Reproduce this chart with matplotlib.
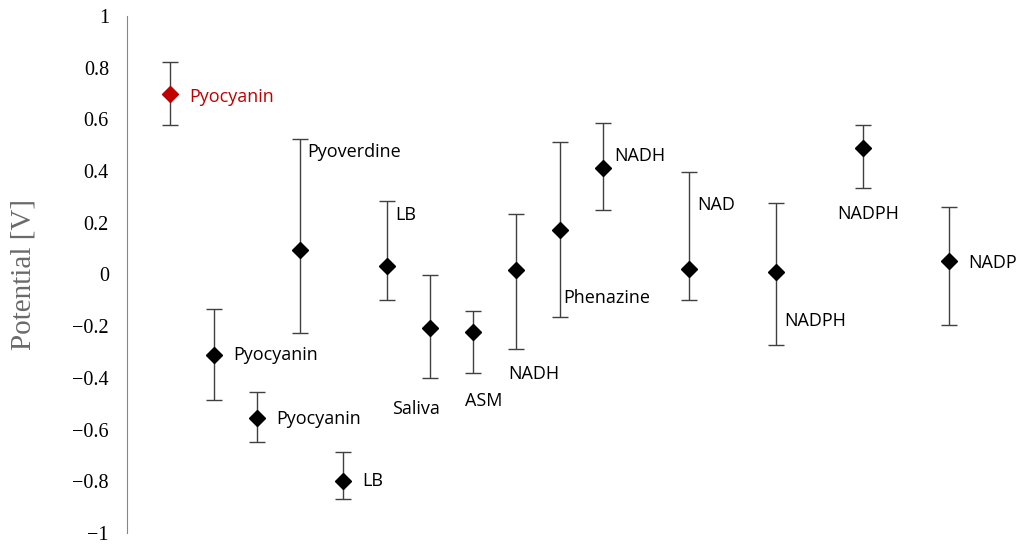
import numpy as np
import matplotlib.pyplot as plt

# compound names and measured potentials [V]
labels = ["Pyocyanin", "Pyocyanin", "Pyocyanin", "Pyoverdine", "LB", "LB",
          "Saliva", "ASM", "NADH", "Phenazine", "NADH", "NAD", "NADPH",
          "NADPH", "NADP"]
pos = [1, 2, 3, 4, 5, 6, 7, 8, 9, 10, 11, 13, 15, 17, 19]
potential = [0.70, -0.31, -0.555, 0.095, -0.80, 0.033, -0.207, -0.222,
             0.017, 0.172, 0.412, 0.021, 0.010, 0.489, 0.052]
err_low = [0.12, 0.175, 0.093, 0.321, 0.069, 0.132, 0.193, 0.159,
           0.305, 0.336, 0.162, 0.120, 0.283, 0.154, 0.247]
err_high = [0.12, 0.177, 0.100, 0.429, 0.112, 0.251, 0.205, 0.081,
            0.217, 0.341, 0.174, 0.376, 0.267, 0.089, 0.209]

# label anchors (data coords) and alignment
label_x = [1.44, 2.45, 3.45, 4.17, 5.44, 6.2, 6.69, 8.24, 9.4, 10.09, 11.27,
           13.17, 15.19, 17.13, 19.44]
label_y = [0.685, -0.31, -0.56, 0.475, -0.80, 0.23, -0.52, -0.49,
           -0.385, -0.09, 0.46, 0.27, -0.18, 0.235, 0.045]
label_ha = ["left", "left", "left", "left", "left", "left", "center",
            "center", "center", "left", "left", "left", "left", "center",
            "left"]

fig = plt.figure(figsize=(10.24, 5.5), dpi=100)
ax = fig.add_axes([0.124, 0.031, 0.862, 0.94])

for i in range(len(pos)):
    c = "#c00000" if i == 0 else "black"
    ax.errorbar(pos[i], potential[i], yerr=[[err_low[i]], [err_high[i]]],
                fmt="D", color=c, ms=8, ecolor="#404040", elinewidth=1,
                capsize=6, capthick=1)
    ax.text(label_x[i], label_y[i], labels[i], ha=label_ha[i], va="center",
            fontsize=13, family="Open Sans", color=c)

ax.set_xlim(0, 20.4)
ax.set_ylim(-1, 1)
ax.set_yticks(np.arange(-1, 1.01, 0.2))
ax.set_yticklabels(["\u22121", "\u22120.8", "\u22120.6", "\u22120.4", "\u22120.2",
                    "0", "0.2", "0.4", "0.6", "0.8", "1"],
                   family="Liberation Serif", fontsize=14.5)
ax.tick_params(axis="y", length=0, pad=13)
ax.set_xticks([])
for s in ["top", "right", "bottom"]:
    ax.spines[s].set_visible(False)
ax.spines["left"].set_color("#868686")
ax.set_ylabel("Potential [V]", family="Liberation Serif", fontsize=21,
              color="#6a6a6a", labelpad=26)

fig.savefig("out.png", dpi=100)
